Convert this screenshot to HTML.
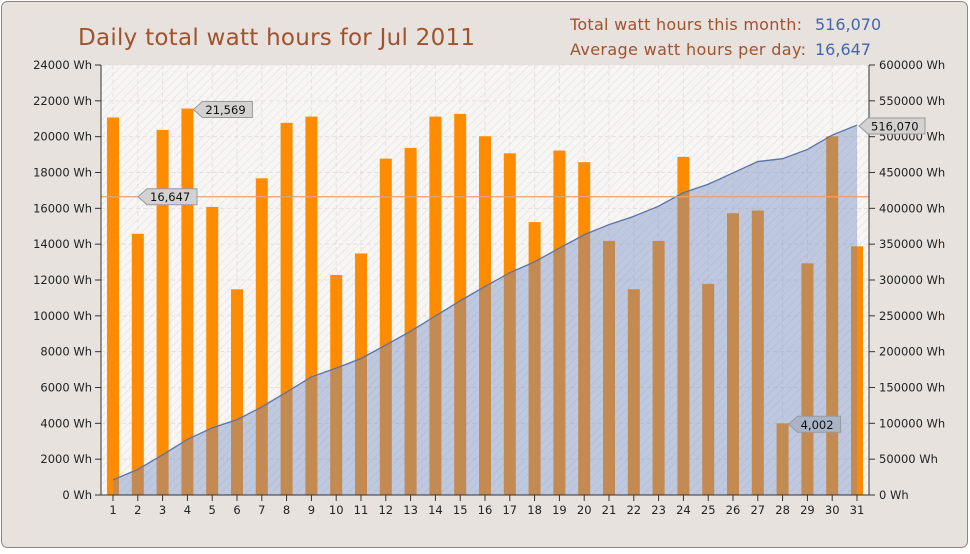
<!DOCTYPE html><html><head><meta charset="utf-8"><style>
body{margin:0;background:#fff;font-family:"DejaVu Sans","Liberation Sans",sans-serif}
</style></head><body>
<svg id="s" width="970" height="550" xmlns="http://www.w3.org/2000/svg" font-family="DejaVu Sans, Liberation Sans, sans-serif">
<defs><pattern id="h" width="6" height="6" patternUnits="userSpaceOnUse" patternTransform="rotate(45)"><rect width="6" height="6" fill="#f7f6f5"/><line x1="0" y1="0" x2="0" y2="6" stroke="#ebe8e6" stroke-width="2"/></pattern></defs>
<rect x="1.5" y="1.5" width="966" height="546" rx="6" fill="#e7e2de" stroke="#8a8580"/>
<rect x="101" y="65" width="768" height="430" fill="url(#h)"/>
<text x="78" y="45" font-size="23" fill="#a0522d" textLength="397">Daily total watt hours for Jul 2011</text>
<text x="570" y="30" font-size="16" fill="#a0522d" textLength="232">Total watt hours this month:</text>
<text x="815" y="30" font-size="16" fill="#4466aa">516,070</text>
<text x="570" y="55" font-size="16" fill="#a0522d" textLength="236">Average watt hours per day:</text>
<text x="815" y="55" font-size="16" fill="#4466aa">16,647</text>
<g id="g"></g>
</svg>
<script>
var v=[21100,14600,20400,21569,16100,11500,17700,20800,21150,12300,13500,18800,19400,21150,21300,20050,19100,15250,19250,18600,14200,11500,14200,18900,11800,15750,15900,4002,12950,20050,13900];
var s=v.reduce((a,b)=>a+b,0),k=516070/s;v=v.map((x,i)=>i==27||i==3?x:Math.round(x*k));
var out='',L=101,R=869,T=65,B=495,H=430;
function yl(x){return B-x/24000*H}function yr(x){return B-x/600000*H}function cx(i){return 113+i*24.8}
for(var i=0;i<=12;i++){var y=B-i*H/12;out+=`<line x1="${L}" x2="${R}" y1="${y}" y2="${y}" stroke="#e4e0dd" stroke-dasharray="4,3"/>`;
out+=`<line x1="95" x2="101" y1="${y}" y2="${y}" stroke="#333"/><text x="92" y="${y+4}" font-size="11.5" text-anchor="end" fill="#222">${i*2000} Wh</text>`;
out+=`<line x1="869" x2="875" y1="${y}" y2="${y}" stroke="#333"/><text x="879" y="${y+4}" font-size="11.5" fill="#222">${i*50000} Wh</text>`;}
for(var i=0;i<31;i++){var x=cx(i);out+=`<line x1="${x}" x2="${x}" y1="${T}" y2="${B}" stroke="#e4e0dd" stroke-dasharray="4,3"/><line x1="${x}" x2="${x}" y1="${B}" y2="${B+6}" stroke="#333"/><text x="${x}" y="${B+19}" font-size="11.5" text-anchor="middle" fill="#222">${i+1}</text>`;}
for(var i=0;i<31;i++){var x=cx(i),y=yl(v[i]);out+=`<rect x="${x-6}" y="${y}" width="12" height="${B-y}" fill="#ff8c00"/>`;}
var c=0,pts=[];for(var i=0;i<31;i++){c+=v[i];pts.push(cx(i)+','+yr(c));}
out+=`<polygon points="${cx(0)},${B} ${pts.join(' ')} ${cx(30)},${B}" fill="#6f89c0" fill-opacity="0.42"/><polyline points="${pts.join(' ')}" fill="none" stroke="#5a72a8" stroke-width="1.3"/>`;
var ay=yl(16647);out+=`<line x1="${L}" x2="${R}" y1="${ay}" y2="${ay}" stroke="#e8a070" stroke-width="1.2"/>`;
out+=`<line x1="${L}" x2="${L}" y1="${T}" y2="${B}" stroke="#333"/><line x1="${R}" x2="${R}" y1="${T}" y2="${B}" stroke="#333"/><line x1="${L}" x2="${R}" y1="${B}" y2="${B}" stroke="#333"/>`;
function lab(x,y,t,f){var w=t.length*7+8;out+=`<path d="M${x} ${y} L${x+9} ${y-8} H${x+9+w} V${y+8} H${x+9} Z" fill="${f}" stroke="#999"/><text x="${x+12}" y="${y+4.5}" font-size="11.5" fill="#111">${t}</text>`;}
lab(cx(3)+6,yl(21569)+1,'21,569','#d4d2d0');lab(138,ay,'16,647','#d4d2d0');lab(cx(30)+2,126,'516,070','#d4d2d0');lab(cx(27)+6,yl(4002)+1,'4,002','#a9b4c8');
document.getElementById('g').innerHTML=out;
</script></body></html>
